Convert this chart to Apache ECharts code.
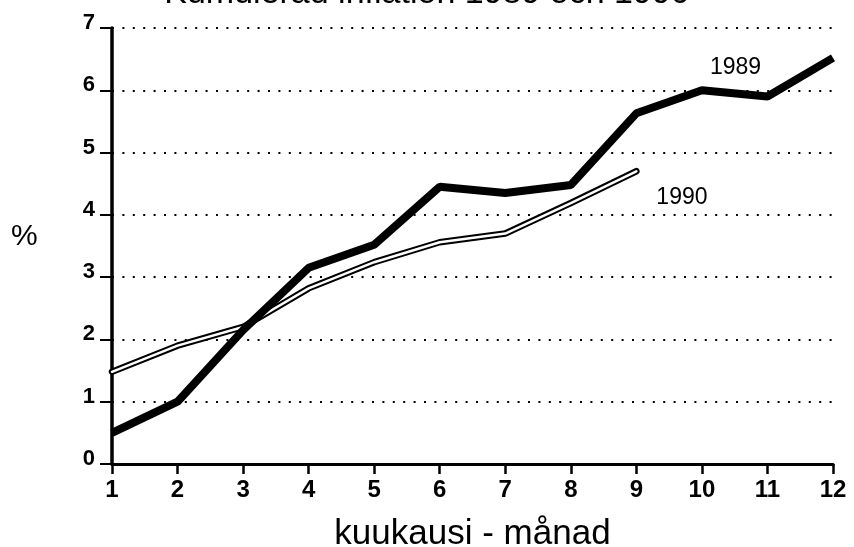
<!DOCTYPE html>
<html><head><meta charset="utf-8">
<script src="https://cdn.jsdelivr.net/npm/echarts@6/dist/echarts.min.js"></script>
<style>html,body{margin:0;padding:0;background:#fff}#c{width:854px;height:547px}</style>
</head><body><div id="c"></div>
<script>
const months = ['1','2','3','4','5','6','7','8','9','10','11','12'];
const yTicks = [0,1,2,3,4,5,6,7];
const infl1989 = [0.5,1.0,2.15,3.15,3.52,4.45,4.35,4.48,5.63,6.0,5.9,6.52];
const infl1990 = [1.48,1.9,2.2,2.82,3.24,3.56,3.7,4.19,4.7];
const titleText = 'Kumulerad inflation 1989 och 1990';
const xName = 'kuukausi - månad';
const yName = '%';

const chart = echarts.init(document.getElementById('c'), null, {renderer:'canvas'});
const font = '"Liberation Sans", Arial, sans-serif';
const narrow = '"Liberation Sans Narrow", "Liberation Sans", Arial, sans-serif';
chart.setOption({
  animation:false,
  backgroundColor:'#fff',
  grid:{left:112, right:21, top:28, bottom:83, containLabel:false, outerBoundsMode:'none'},
  xAxis:{
    type:'category', data:months, boundaryGap:false,
    name:xName, nameLocation:'middle', nameGap:53,
    nameTextStyle:{fontFamily:font, fontSize:35, color:'#000'},
    axisLine:{lineStyle:{color:'#000', width:3}},
    axisTick:{length:10, lineStyle:{color:'#000', width:2.5}},
    axisLabel:{fontFamily:narrow, fontWeight:'bold', fontSize:24, color:'#000', margin:14}
  },
  yAxis:{
    type:'value', min:0, max:7, interval:1,
    axisLine:{show:true, lineStyle:{color:'#000', width:3.5}},
    axisTick:{show:true, length:12, lineStyle:{color:'#000', width:2}},
    axisLabel:{fontFamily:font, fontWeight:'bold', fontSize:22, color:'#000', margin:17,
      verticalAlign:'bottom', lineHeight:10},
    splitLine:{show:true, lineStyle:{color:'#000', type:[2,8.4], width:2}}
  },
  series:[
    {type:'line', data:infl1990, symbol:'none', lineStyle:{color:'#000', width:6.5, cap:'round'}, z:3},
    {type:'line', data:infl1990, symbol:'none', lineStyle:{color:'#fff', width:2.5, cap:'round'}, z:4},
    {type:'line', data:infl1989, symbol:'none', lineStyle:{color:'#000', width:8}, z:5}
  ]
});
const p89 = chart.convertToPixel({seriesIndex:2}, [9, infl1989[9]]);
const p90 = chart.convertToPixel({seriesIndex:0}, [8, infl1990[8]]);
chart.setOption({graphic:[
  {type:'text', left:'center', top:-23, style:{text:titleText, font:'34px '+font, fill:'#000'}},
  {type:'text', left:11, top:222, style:{text:yName, font:'30px '+font, fill:'#000'}},
  {type:'text', x:p89[0]+8, y:p89[1]-34, style:{text:'1989', font:'23px '+font, fill:'#000'}},
  {type:'text', x:p90[0]+20, y:p90[1]+15, style:{text:'1990', font:'23px '+font, fill:'#000'}}
]});
</script></body></html>
